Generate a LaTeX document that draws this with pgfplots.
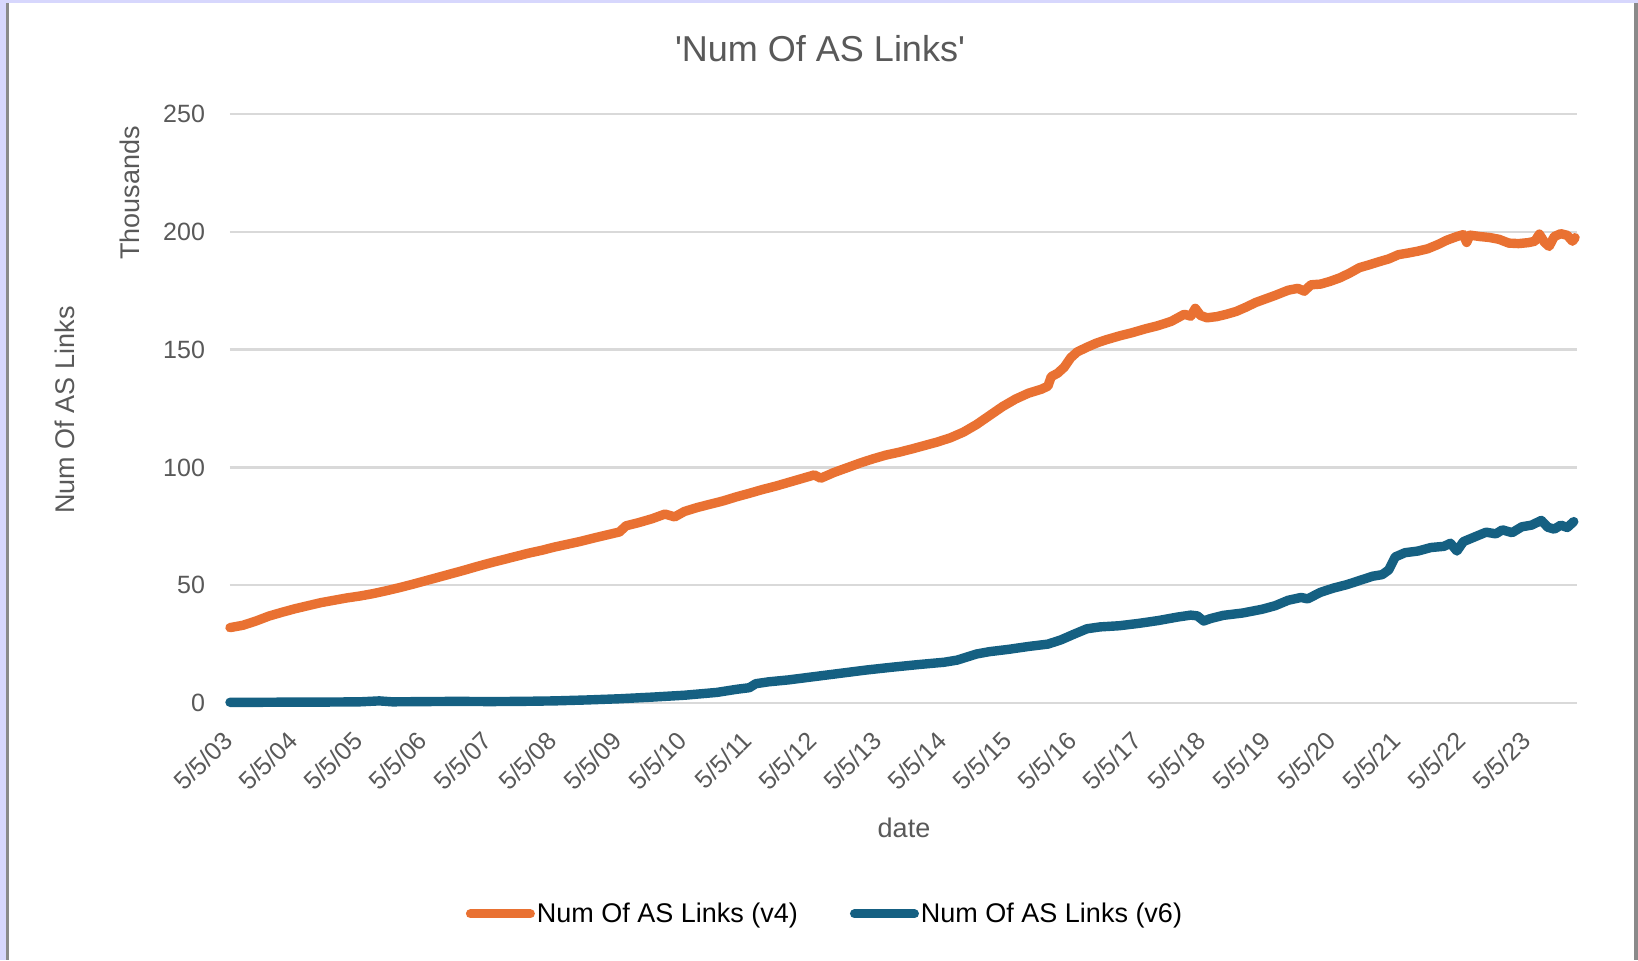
\documentclass[border=0pt]{standalone}
\usepackage{fontspec}
\setmainfont{Liberation Sans}
\usepackage{pgfplots}
\pgfplotsset{compat=1.18}
\definecolor{lav}{HTML}{D7D7FD}
\definecolor{framegray}{HTML}{8A8A8A}
\definecolor{txtgray}{HTML}{595959}
\definecolor{gridc}{HTML}{D9D9D9}
\definecolor{orng}{HTML}{E97132}
\definecolor{tealb}{HTML}{156082}
\begin{document}
\begin{tikzpicture}
% page background and frame
\fill[lav] (-115pt,-128.5pt) rectangle (704pt,351.5pt);
\fill[white] (-110.5pt,-128.5pt) rectangle (702pt,349.8pt);
\fill[framegray] (-112pt,-128.5pt) rectangle (-110.5pt,349.8pt);
\fill[framegray] (702pt,-128.5pt) rectangle (704pt,349.8pt);
\begin{axis}[
  scale only axis, width=673.5pt, height=294.5pt,
  xmin=0, xmax=20.75, ymin=0, ymax=250,
  axis line style={draw=none},
  major tick length=0pt,
  ymajorgrids, grid style={gridc, line width=1.2pt},
  ytick={0,50,100,150,200,250},
  xtick={0,1,2,3,4,5,6,7,8,9,10,11,12,13,14,15,16,17,18,19,20},
  xticklabels={5/5/03,5/5/04,5/5/05,5/5/06,5/5/07,5/5/08,5/5/09,5/5/10,5/5/11,5/5/12,5/5/13,5/5/14,5/5/15,5/5/16,5/5/17,5/5/18,5/5/19,5/5/20,5/5/21,5/5/22,5/5/23},
  tick label style={font=\fontsize{12.5}{15}\selectfont, text=txtgray},
  yticklabel style={/pgf/number format/assume math mode=true, anchor=east, xshift=-9pt},
  xticklabel style={xshift=-1pt, yshift=-16.5pt, rotate=45, anchor=east, inner sep=0pt},
  clip=false,
  legend columns=2,
  legend style={draw=none, fill=none, at={(0.4417,-0.358)}, anchor=center,
    font=\fontsize{13.5}{16}\selectfont, text=black,
    /tikz/every even column/.append style={column sep=25pt},
    nodes={inner xsep=1pt}},
  legend image code/.code={\draw[#1, line cap=round, line width=4.5pt] (0pt,0pt) -- (30pt,0pt);},
  every axis plot/.append style={line width=4.7pt, line join=round, line cap=round},
]
\addplot[orng] coordinates {
(0.0,32.0) (0.2,33.0) (0.4,34.8) (0.6,36.9) (0.8,38.5) (1.0,40.0) (1.2,41.3) (1.4,42.6)
(1.6,43.6) (1.8,44.6) (2.0,45.4) (2.2,46.4) (2.4,47.6) (2.6,48.9) (2.8,50.3) (3.0,51.8)
(3.2,53.3) (3.4,54.8) (3.6,56.3) (3.8,57.9) (4.0,59.4) (4.2,60.8) (4.4,62.2) (4.6,63.6)
(4.8,64.8) (5.0,66.2) (5.2,67.4) (5.4,68.6) (5.6,70.0) (5.8,71.3) (6.0,72.6) (6.1,75.2)
(6.3,76.6) (6.5,78.2) (6.7,80.2) (6.85,79.0) (7.0,81.3) (7.2,83.0) (7.4,84.4) (7.6,85.8)
(7.8,87.5) (8.0,89.0) (8.2,90.6) (8.4,92.0) (8.6,93.6) (8.8,95.2) (9.0,96.8) (9.1,95.4)
(9.3,97.8) (9.5,99.8) (9.7,101.8) (9.9,103.6) (10.1,105.2) (10.3,106.4) (10.5,107.8)
(10.7,109.3) (10.9,110.8) (11.1,112.6) (11.3,115.0) (11.5,118.2) (11.7,122.0) (11.9,125.8)
(12.1,129.0) (12.3,131.5) (12.5,133.2) (12.6,134.5) (12.65,138.5) (12.75,140.0) (12.85,142.5)
(12.95,146.5) (13.05,149.0) (13.2,151.0) (13.35,152.8) (13.5,154.2) (13.7,155.8) (13.9,157.2)
(14.1,158.8) (14.3,160.2) (14.5,162.0) (14.6,163.5) (14.7,165.0) (14.8,164.2) (14.87,167.5)
(14.95,164.5) (15.05,163.5) (15.2,164.0) (15.35,165.0) (15.5,166.2) (15.65,168.0) (15.8,170.0)
(15.95,171.5) (16.1,173.0) (16.3,175.2) (16.45,176.0) (16.55,174.8) (16.65,177.5) (16.8,177.8)
(16.95,179.0) (17.1,180.5) (17.25,182.5) (17.4,184.8) (17.55,186.0) (17.7,187.3) (17.85,188.5)
(18.0,190.3) (18.15,191.0) (18.3,191.8) (18.45,192.8) (18.6,194.5) (18.75,196.5) (18.9,198.0)
(19.0,198.8) (19.05,195.5) (19.1,198.6) (19.25,198.0) (19.4,197.6) (19.55,196.8) (19.7,195.2)
(19.85,195.0) (20.0,195.4) (20.1,196.0) (20.17,199.0) (20.25,195.5) (20.32,193.8) (20.4,198.0)
(20.5,199.2) (20.6,198.5) (20.68,196.0) (20.72,197.5)
};
\addlegendentry{Num Of AS Links (v4)}
\addplot[tealb] coordinates {
(0.0,0.3) (0.5,0.3) (1.0,0.4) (1.5,0.4) (2.0,0.5) (2.3,0.9) (2.5,0.5) (3.0,0.6) (3.5,0.7)
(4.0,0.6) (4.5,0.7) (5.0,0.9) (5.5,1.3) (6.0,1.8) (6.5,2.5) (7.0,3.3) (7.5,4.5) (7.8,5.8)
(8.0,6.5) (8.1,8.2) (8.3,9.0) (8.6,9.8) (9.0,11.2) (9.4,12.6) (9.8,14.0) (10.2,15.2)
(10.6,16.3) (11.0,17.3) (11.2,18.2) (11.5,20.8) (11.7,21.8) (12.0,22.8) (12.3,24.0)
(12.6,25.0) (12.8,26.8) (13.0,29.2) (13.2,31.5) (13.4,32.3) (13.7,32.8) (14.0,33.8)
(14.3,35.0) (14.6,36.5) (14.8,37.3) (14.9,37.0) (15.0,34.8) (15.1,35.8) (15.3,37.2)
(15.6,38.2) (15.9,39.8) (16.1,41.3) (16.3,43.6) (16.5,44.8) (16.6,44.2) (16.8,47.0)
(17.0,48.8) (17.2,50.2) (17.4,52.0) (17.6,53.8) (17.75,54.5) (17.85,56.5) (17.95,62.0)
(18.1,63.8) (18.3,64.5) (18.5,66.0) (18.7,66.5) (18.8,67.8) (18.9,64.5) (19.0,68.5)
(19.2,70.8) (19.35,72.5) (19.5,71.8) (19.6,73.5) (19.75,72.3) (19.9,74.8) (20.05,75.5)
(20.2,77.5) (20.3,74.6) (20.4,73.8) (20.5,75.5) (20.6,74.5) (20.7,77.0)
};
\addlegendentry{Num Of AS Links (v6)}
\end{axis}
\node[text=txtgray, font=\fontsize{18}{21}\selectfont] at (295pt,327pt) {\textquotesingle Num Of AS Links\textquotesingle};
\node[text=txtgray, font=\fontsize{13.5}{16}\selectfont, rotate=90] at (-82.5pt,146.5pt) {Num Of AS Links};
\node[text=txtgray, font=\fontsize{13.5}{16}\selectfont, rotate=90] at (-50pt,255pt) {Thousands};
\node[text=txtgray, font=\fontsize{13.5}{16}\selectfont] at (337pt,-62.5pt) {date};
\pgfresetboundingbox
\path (-115pt,-128.5pt) rectangle (704pt,351.5pt);
\end{tikzpicture}
\end{document}
